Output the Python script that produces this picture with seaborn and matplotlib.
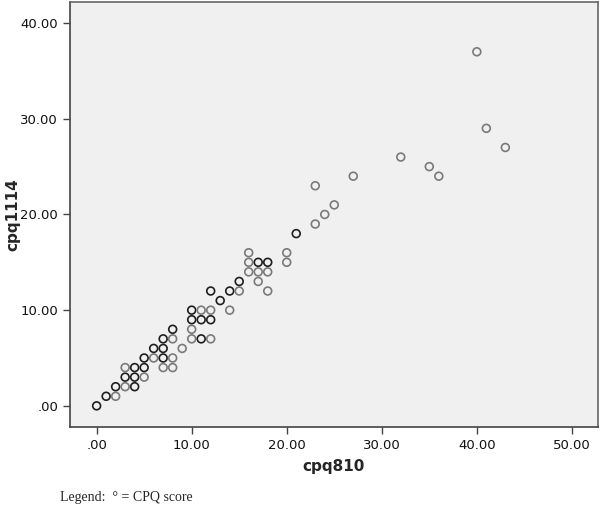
import pandas as pd
import numpy as np
import matplotlib
matplotlib.use("Agg")
import matplotlib.pyplot as plt
import seaborn as sns
from matplotlib.ticker import FuncFormatter

# CPQ scores (n = cases stacked on a point, darker circles)
cpq810 = [0, 1, 2, 2, 3, 4, 3, 4, 5, 3, 4, 5, 5, 6, 7, 8, 7, 8, 6, 7, 9, 7, 8, 8,
          10, 11, 12, 10, 10, 11, 12, 10, 11, 12, 14, 13, 12, 14, 15, 15, 17,
          16, 17, 18, 16, 17, 18, 16, 18, 20, 20, 21, 23, 24, 25, 23, 27, 32,
          35, 36, 40, 41, 43]
cpq1114 = [0, 1, 1, 2, 2, 2, 3, 3, 3, 4, 4, 4, 5, 5, 5, 5, 4, 4, 6, 6, 6, 7, 7, 8,
           7, 7, 7, 8, 9, 9, 9, 10, 10, 10, 10, 11, 12, 12, 12, 13, 13,
           14, 14, 14, 15, 15, 15, 16, 12, 15, 16, 18, 19, 20, 21, 23, 24, 26,
           25, 24, 37, 29, 27]
n = [2, 2, 1, 2, 1, 2, 2, 2, 1, 1, 2, 2, 2, 1, 2, 1, 1, 1, 2, 2, 1, 2, 1, 2,
     1, 2, 1, 1, 2, 2, 2, 2, 1, 1, 1, 2, 2, 2, 1, 2, 1,
     1, 1, 1, 1, 2, 2, 1, 1, 1, 1, 2, 1, 1, 1, 1, 1, 1,
     1, 1, 1, 1, 1]

df = pd.DataFrame({"cpq810": cpq810, "cpq1114": cpq1114, "n": n})

sns.set_style("white")
plt.rcParams["font.family"] = ["DejaVu Sans"]

fig = plt.figure(figsize=(6, 5.07), dpi=100)
ax = fig.add_axes([0.1167, 0.158, 0.88, 0.838])
ax.set_facecolor("#f0f0f0")

sns.scatterplot(data=df, x="cpq810", y="cpq1114", hue="n",
                palette={1: "#7a7a7a", 2: "#1e1e1e"}, marker="o",
                s=32, linewidth=1.2, legend=False, ax=ax)
# seaborn fills from hue; turn that into hollow circles with hue edges
coll = ax.collections[0]
coll.set_edgecolors(coll.get_facecolors())
coll.set_facecolors("none")

ax.set_xlim(-2.8, 52.75)
ax.set_ylim(-2.2, 42.2)
ax.set_xticks([0, 10, 20, 30, 40, 50])
ax.set_yticks([0, 10, 20, 30, 40])
fmt = FuncFormatter(lambda v, p: ".00" if v == 0 else f"{v:.2f}")
ax.xaxis.set_major_formatter(fmt)
ax.yaxis.set_major_formatter(fmt)
ax.tick_params(axis="both", direction="out", length=5, width=1, color="#444",
               labelsize=9.5, labelcolor="#111", bottom=True, left=True)

for side in ["top", "right", "left", "bottom"]:
    ax.spines[side].set_color("#666")
    ax.spines[side].set_linewidth(1.2)
ax.spines["left"].set_color("#444")
ax.spines["bottom"].set_color("#444")

ax.set_xlabel("cpq810", fontsize=11, fontweight="bold", labelpad=5)
ax.set_ylabel("cpq1114", fontsize=11, fontweight="bold", labelpad=0)

fig.text(0.1, 0.005, "Legend:  \u00b0 = CPQ score", fontsize=10,
         family=["Liberation Serif", "DejaVu Serif"], va="bottom")

fig.savefig("out.png", dpi=100)
